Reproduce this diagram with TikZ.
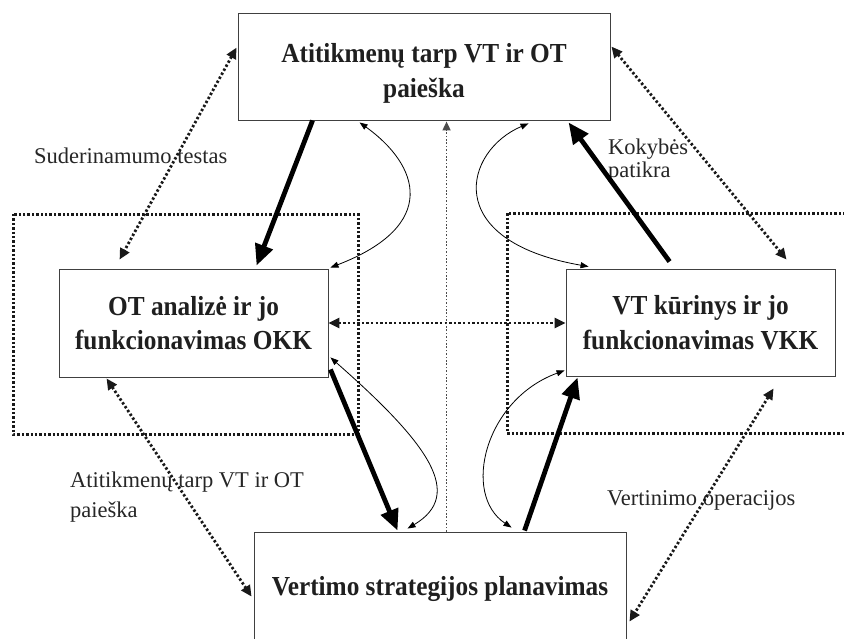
\documentclass[tikz,border=0pt]{standalone}
\usepackage{fontspec}
\setmainfont{Liberation Serif}[BoldFeatures={FakeStretch=0.92}]
\usetikzlibrary{arrows.meta,calc}
\begin{document}
\begin{tikzpicture}[x=1pt,y=-1pt,
  box/.style={draw=black!75, line width=0.9pt, fill=white, inner sep=0pt, align=center,
    font=\fontsize{27.5}{34.5}\selectfont\bfseries, text=black!88},
  lbl/.style={inner sep=0pt, align=left, font=\fontsize{22.5}{30}\selectfont, text=black!85},
  dotframe/.style={line width=3pt, dash pattern=on 2.4pt off 2pt, black!90},
  dotarr/.style={line width=2.8pt, dash pattern=on 2.4pt off 2.2pt, black!90,
    {Triangle[length=11pt,width=10pt]}-{Triangle[length=11pt,width=10pt]}},
  heavy/.style={line width=4.8pt, black, -{Triangle[length=21pt,width=18pt]}},
  thinarr/.style={line width=0.8pt, black,
    {Triangle[length=8pt,width=6pt]}-{Triangle[length=8pt,width=6pt]}},
  vline/.style={line width=1.6pt, dash pattern=on 1.6pt off 1.8pt, black!70,
    -{Triangle[length=9pt,width=8pt]}}
]
\useasboundingbox (0,0) rectangle (844,638);

% dotted frames
\draw[dotframe] (13,214) rectangle (358,434);
\draw[dotframe] (850,213) -- (507,213) -- (507,433) -- (850,433);

% boxes
\node[box, minimum width=372pt, minimum height=107pt] (top) at (424,66.5)
  {\rule{0pt}{33pt}Atitikmenų tarp VT ir OT\\paieška};
\node[box, minimum width=269pt, minimum height=108pt] (okk) at (193.5,323)
  {OT analizė ir jo\\funkcionavimas OKK};
\node[box, minimum width=269pt, minimum height=107pt] (vkk) at (700.5,322.5)
  {VT kūrinys ir jo\\funkcionavimas VKK};
\node[box, minimum width=372pt, minimum height=113pt] (bot) at (440,588.5)
  {Vertimo strategijos planavimas};

% labels
\node[lbl, anchor=base west] (l1) at (34,163) {Suderinamumo testas};
\node[lbl, anchor=north west, font=\fontsize{22.5}{23}\selectfont] (l2) at (608,139) {Kokybės\\patikra};
\node[lbl, anchor=north west] (l3) at (70,472) {Atitikmenų tarp VT ir OT\\paieška};
\node[lbl, anchor=base west] (l4) at (607,505) {Vertinimo operacijos};

% dotted double arrows
\draw[dotarr] ($(top.north west)+(-1,35)$) -- ($(okk.north west)+(61,-9)$);
\draw[dotarr] ($(top.north east)+(1,34)$) -- ($(vkk.north west)+(221,-9)$);
\draw[dotarr] (okk.east) -- (okk.east -| vkk.west);
\draw[dotarr] ($(okk.south west)+(48,1)$) -- ($(bot.north west)+(-2,65)$);
\draw[dotarr] ($(vkk.south west)+(208,12)$) -- ($(bot.north east)+(3,90)$);

% central vertical dotted
\draw[vline] ($(bot.north west)+(193,0)$) -- ($(top.south west)+(209,1)$);

% heavy arrows
\draw[heavy] ($(top.south west)+(75,0)$) -- ($(okk.north west)+(198,-3)$);
\draw[heavy] ($(vkk.north west)+(104,-7)$) -- ($(top.south west)+(331,2)$);
\draw[heavy] ($(okk.south east)+(2,-8)$) -- ($(bot.north west)+(144,-1)$);
\draw[heavy] ($(bot.north west)+(271,-1)$) -- ($(vkk.south west)+(12,1)$);

% thin curved double arrows
\draw[thinarr] ($(top.south west)+(122,2)$) .. controls ($(top.south west)+(182,45)$) and ($(top.south west)+(202,105)$) .. ($(okk.north east)+(2,-1)$);
\draw[thinarr] ($(top.south west)+(291,3)$) .. controls ($(top.south west)+(227,30)$) and ($(top.south west)+(202,120)$) .. ($(vkk.north west)+(23,-2)$);
\draw[thinarr] ($(okk.south east)+(2,-20)$) .. controls ($(bot.north west)+(176,-87)$) and ($(bot.north west)+(211,-37)$) .. ($(bot.north west)+(154,-3)$);
\draw[thinarr] ($(vkk.south west)+(-1,-6)$) .. controls ($(bot.north west)+(231,-132)$) and ($(bot.north west)+(208,-37)$) .. ($(bot.north west)+(258,-4)$);
\end{tikzpicture}
\end{document}
